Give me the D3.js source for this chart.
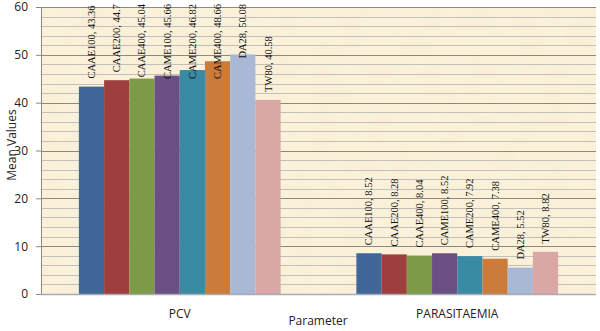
<!DOCTYPE html>
<html><head><meta charset="utf-8">
<script src="https://cdn.jsdelivr.net/npm/d3@7"></script>
<style>body{margin:0;background:#fff}svg{display:block}</style>
</head><body>
<svg id="c" width="600" height="331"></svg>
<script>
const categories = ["PCV", "PARASITAEMIA"];
const seriesNames = ["CAAE100","CAAE200","CAAE400","CAME100","CAME200","CAME400","DA28","TW80"];
const pcvValues = [43.36, 44.7, 45.04, 45.66, 46.82, 48.66, 50.08, 40.58];
const parasitaemiaValues = [8.52, 8.28, 8.04, 8.52, 7.92, 7.38, 5.52, 8.82];
const yTicks = [0, 10, 20, 30, 40, 50, 60];
const colors = ["#3F6797","#9E3F3D","#7D9A48","#6A4F84","#3B8AA4","#CB7B3A","#A9B8D5","#D8A7A6"];

const valuesByCat = [pcvValues, parasitaemiaValues];
const svg = d3.select("#c");
const m = {l:41, r:4, t:7, b:37};
const W = 600, H = 331;
const iw = W - m.l - m.r, ih = H - m.t - m.b;

const defs = svg.append("defs");
const f = defs.append("filter").attr("id","paper").attr("x",0).attr("y",0).attr("width","100%").attr("height","100%");
f.append("feTurbulence").attr("type","fractalNoise").attr("baseFrequency","0.04").attr("numOctaves",3).attr("seed",4).attr("result","n");
f.append("feColorMatrix").attr("in","n").attr("type","matrix")
 .attr("values","0 0 0 0 0.84  0 0 0 0 0.74  0 0 0 0 0.55  0 0 0 0.22 0").attr("result","c");
f.append("feComposite").attr("in","c").attr("in2","SourceGraphic").attr("operator","over");

const g = svg.append("g").attr("transform",`translate(${m.l},${m.t})`);
g.append("rect").attr("width",iw).attr("height",ih).attr("fill","#FCF3DC").attr("filter","url(#paper)");

const y = d3.scaleLinear().domain([0,60]).range([ih,0]);
const x0 = d3.scaleBand().domain(categories).range([0,iw]).paddingInner(0.273).paddingOuter(0.1365);
const x1 = d3.scaleBand().domain(seriesNames).range([0,x0.bandwidth()]).padding(0);

// minor gridlines
const minor = d3.range(2,60,2).filter(v=>v%10!==0);
g.append("g").selectAll("line").data(minor).join("line")
 .attr("x1",0).attr("x2",iw).attr("y1",d=>Math.round(y(d))+0.5).attr("y2",d=>Math.round(y(d))+0.5)
 .attr("stroke","#C3C0BC").attr("stroke-width",1);
// major gridlines
g.append("g").selectAll("line").data(yTicks.filter(v=>v>0)).join("line")
 .attr("x1",0).attr("x2",iw).attr("y1",d=>Math.round(y(d))+0.5).attr("y2",d=>Math.round(y(d))+0.5)
 .attr("stroke","#8E8880").attr("stroke-width",1);

// bars
categories.forEach((cat,ci)=>{
  const vals = valuesByCat[ci];
  const gg = g.append("g").attr("transform",`translate(${x0(cat)},0)`);
  gg.selectAll("rect").data(vals).join("rect")
   .attr("x",(d,i)=>x1(seriesNames[i]))
   .attr("width",x1.bandwidth())
   .attr("y",d=>y(d)).attr("height",d=>ih-y(d))
   .attr("fill",(d,i)=>colors[i]);
  vals.forEach((d,i)=>{
    const label = `${seriesNames[i]}, ${d}`;
    const lg = gg.append("g");
    const t = lg.append("text")
      .attr("font-family","'Liberation Serif','Times New Roman',serif")
      .attr("font-size","10.5px").attr("fill","#111")
      .text(label);
    const len = t.node().getComputedTextLength();
    let start = y(d) - 8;
    const minEnd = -3;
    if (start - len < minEnd) start = minEnd + len;
    const cx = x1(seriesNames[i]) + x1.bandwidth()/2 + 3.5;
    lg.attr("transform",`translate(${cx},${start}) rotate(-90)`);
  });
});

// y axis
const ya = g.append("g").call(d3.axisLeft(y).tickValues(yTicks).tickSize(5).tickPadding(8));
ya.select(".domain").attr("stroke","#8E8880").attr("d",`M0.5,0V${ih}`);
ya.selectAll(".tick line").attr("stroke","#8E8880");
ya.selectAll("text").attr("font-family","'Open Sans','Liberation Sans',sans-serif").attr("font-size","12px").attr("fill","#222");

// x axis
g.append("line").attr("x1",0).attr("x2",iw).attr("y1",ih+0.5).attr("y2",ih+0.5).attr("stroke","#A7ACB4").attr("stroke-width",1.5);
g.append("g").selectAll("text").data(categories).join("text")
 .attr("x",d=>x0(d)+x0.bandwidth()/2).attr("y",ih+24)
 .attr("text-anchor","middle").attr("font-family","'Open Sans','Liberation Sans',sans-serif")
 .attr("font-size","12px").attr("fill","#222").text(d=>d);

svg.append("text").attr("x",318).attr("y",325).attr("text-anchor","middle")
 .attr("font-family","'Open Sans','Liberation Sans',sans-serif").attr("font-size","12px").attr("fill","#222").text("Parameter");
svg.append("text").attr("transform","translate(16,145) rotate(-90)").attr("text-anchor","middle")
 .attr("font-family","'Open Sans','Liberation Sans',sans-serif").attr("font-size","12px").attr("fill","#222").text("Mean Values");
</script>
</body></html>
